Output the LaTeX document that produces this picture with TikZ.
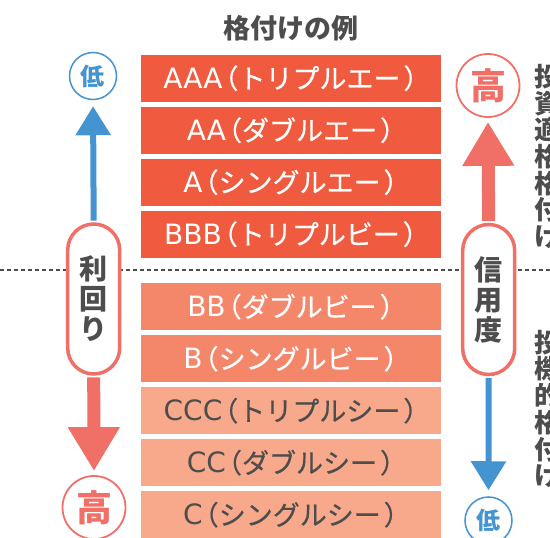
\documentclass[tikz,border=0pt]{standalone}
\usepackage{fontspec}
\setmainfont{Noto Sans CJK JP}
\newfontfamily\rankfont{Noto Sans CJK JP}[FakeBold=0.5]
\newfontfamily\rankletters{DejaVu Sans}
\usetikzlibrary{arrows.meta,positioning}
\definecolor{ink}     {HTML}{4D4D4D}
\definecolor{rankhi}  {HTML}{F05B3F}
\definecolor{rankmid} {HTML}{F4866A}
\definecolor{ranklo}  {HTML}{F8A98C}
\definecolor{coral}   {HTML}{F07068}
\definecolor{sky}     {HTML}{4394D0}
% grade letters, then the reading in brackets
\newcommand\grade[2]{{\rankletters\fontsize{28}{30}\selectfont #1}\kern-11pt（#2\kern3pt）\kern-12pt}
\tikzset{
  % --- nodes
  rank/.style    = {minimum width=300pt, minimum height=47pt, inner sep=0pt,
                    anchor=north, font=\rankfont\fontsize{27}{30}\selectfont},
  hi/.style      = {rank, fill=rankhi, text=white},
  mid/.style     = {rank, fill=rankmid, text=white},
  lo/.style      = {rank, fill=ranklo, text=ink},
  heading/.style = {text=ink, font=\bfseries\fontsize{27}{30}\selectfont},
  capsule/.style = {draw=coral, line width=3.5pt, fill=white, rounded corners=26pt,
                    minimum width=52pt, minimum height=150pt, align=center,
                    inner sep=0pt, text=ink, font=\bfseries\fontsize{28}{30}\selectfont},
  lowmark/.style = {circle, draw=sky, line width=1.5pt, fill=white, inner sep=0pt,
                    minimum size=47pt, text=sky, font=\bfseries\fontsize{24}{24}\selectfont},
  highmark/.style= {circle, draw=coral, line width=1.8pt, fill=white, inner sep=0pt,
                    minimum size=63pt, text=coral, font=\bfseries\fontsize{36}{36}\selectfont},
  side/.style    = {align=center, inner sep=0pt, text=ink,
                    font=\bfseries\fontsize{26}{26.7}\selectfont},
  % --- edges
  cutline/.style = {draw=ink, line width=1.6pt, dash pattern=on 4pt off 3pt},
  skyarr/.style  = {draw=sky, line width=6pt, -{Triangle[length=29pt,width=34pt]},
                    shorten <=1.7pt, shorten >=6pt},
  coralarr/.style= {draw=coral, line width=13pt, -{Triangle[length=44pt,width=49pt]},
                    shorten <=1.7pt, shorten >=4pt},
}
\begin{document}
\begin{tikzpicture}[x=1pt,y=-1pt]
  \useasboundingbox (0,0) rectangle (550,538);

  \coordinate (dashW) at (0,270);
  \coordinate (dashE) at (550,270);
  \draw[cutline] (dashW) -- (dashE);

  \node[heading] (ttl) at (291,28) {格付けの例};

  \foreach \i/\y/\kind/\ltr/\yomi in {
      1/54.5/hi/AAA/トリプルエー, 2/106.5/hi/AA/ダブルエー,
      3/158.5/hi/A/シングルエー,  4/210.5/hi/BBB/トリプルビー,
      5/283/mid/BB/ダブルビー,    6/335/mid/B/シングルビー,
      7/387/lo/CCC/トリプルシー,  8/439/lo/CC/ダブルシー,
      9/491/lo/C/シングルシー} {
    \node[\kind] (r\i) at (291,\y) {\grade{\ltr}{\yomi}};
  }

  % left: yield
  \node[lowmark]  (lowL)  at (93,76)     {低};
  \node[highmark] (highL) at (94,507.5)  {高};
  \node[capsule]  (capL)  at (93.7,299)  {利\\回\\り};
  \draw[skyarr]   (capL.north) -- (lowL.south);
  \draw[coralarr] (capL.south) -- (highL.north);

  % right: credit
  \node[highmark] (highR) at (488,85.5)  {高};
  \node[lowmark]  (lowR)  at (488.5,520.5) {低};
  \node[capsule]  (capR)  at (488.7,299.5) {信\\用\\度};
  \draw[coralarr] (capR.north) -- (highR.south);
  \draw[skyarr]   (capR.south) -- (lowR.north);

  \node[side] (invR)  at (547,156.5) {投\\資\\適\\格\\格\\付\\け};
  \node[side] (specR) at (547,409)   {投\\機\\的\\格\\付\\け};
\end{tikzpicture}
\end{document}
